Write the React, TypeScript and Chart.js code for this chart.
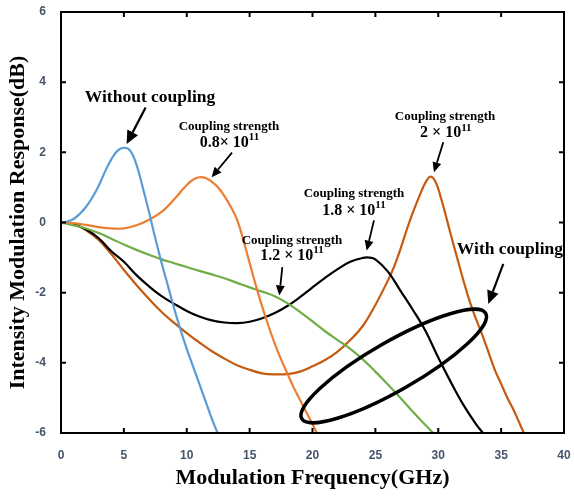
import React, { useEffect, useRef } from 'react';
import { Chart, registerables } from 'chart.js';

Chart.register(...registerables);

// ---------- data ----------
const X_MIN = 0;
const X_MAX = 40;
const X_STEP = 5;
const Y_MIN = -6;
const Y_MAX = 6;
const Y_STEP = 2;

const xTitle = 'Modulation Frequency(GHz)';
const yTitle = 'Intensity Modulation Response(dB)';

const noCouplingX = [0, 0.5, 1, 1.5, 2, 2.5, 3, 3.5, 4, 4.5, 5, 5.5, 6, 6.5, 7, 7.5, 8, 8.5, 9, 9.5, 10, 10.5, 11, 11.5, 12, 12.45];
const noCouplingY = [0, 0.03, 0.1, 0.25, 0.45, 0.72, 1.05, 1.45, 1.8, 2.05, 2.13, 2.05, 1.65, 1.0, 0.3, -0.45, -1.15, -1.8, -2.45, -3.05, -3.6, -4.1, -4.6, -5.1, -5.6, -6];

const k08X = [0, 1, 2, 3, 4, 5, 6, 7, 8, 9, 10, 10.5, 11, 11.5, 12, 12.5, 13, 13.5, 14, 14.5, 15, 15.5, 16, 16.5, 17, 17.5, 18, 18.5, 19, 19.5, 20, 20.35];
const k08Y = [0, -0.02, -0.07, -0.13, -0.17, -0.17, -0.08, 0.08, 0.3, 0.66, 1.07, 1.22, 1.29, 1.27, 1.16, 1.0, 0.75, 0.45, 0.08, -0.5, -1.15, -1.8, -2.4, -2.95, -3.45, -3.9, -4.3, -4.7, -5.05, -5.4, -5.75, -6];

const k12X = [0, 1, 2, 3, 4, 5, 6, 7, 8, 9, 10, 11, 12, 13, 14, 15, 16, 17, 18, 19, 20, 21, 22, 23, 24, 25, 26, 27, 28, 29, 29.6];
const k12Y = [0, -0.08, -0.17, -0.3, -0.46, -0.63, -0.78, -0.92, -1.05, -1.16, -1.27, -1.38, -1.48, -1.59, -1.72, -1.85, -1.97, -2.1, -2.3, -2.55, -2.82, -3.1, -3.35, -3.6, -3.9, -4.25, -4.62, -5.0, -5.4, -5.78, -6];

const k18X = [0, 1, 2, 3, 4, 5, 6, 7, 8, 9, 10, 11, 12, 13, 14, 15, 16, 17, 18, 19, 20, 21, 22, 23, 24, 24.5, 25, 26, 27, 28, 29, 30, 31, 32, 33, 33.55];
const k18Y = [0, -0.05, -0.2, -0.45, -0.82, -1.12, -1.5, -1.82, -2.1, -2.32, -2.52, -2.68, -2.79, -2.85, -2.87, -2.83, -2.73, -2.58, -2.38, -2.13, -1.85, -1.58, -1.33, -1.12, -1.01, -1.0, -1.05, -1.4, -1.95, -2.5, -3.1, -3.85, -4.55, -5.2, -5.75, -6];

const k20X = [0, 1, 2, 3, 4, 5, 6, 7, 8, 9, 10, 11, 12, 13, 14, 15, 16, 17, 18, 19, 20, 21, 22, 23, 24, 25, 26, 26.5, 27, 27.5, 28, 28.5, 29, 29.4, 29.8, 30.2, 30.6, 31, 31.5, 32, 32.5, 33, 33.5, 34, 34.5, 35, 35.5, 36, 36.5, 36.8];
const k20Y = [0, -0.05, -0.22, -0.5, -0.9, -1.35, -1.78, -2.18, -2.55, -2.86, -3.15, -3.42, -3.67, -3.88, -4.07, -4.2, -4.3, -4.33, -4.32, -4.25, -4.1, -3.92, -3.68, -3.35, -2.95, -2.35, -1.65, -1.25, -0.75, -0.2, 0.3, 0.75, 1.15, 1.31, 1.15, 0.72, 0.2, -0.35, -1.0, -1.65, -2.25, -2.75, -3.2, -3.7, -4.2, -4.6, -5.0, -5.35, -5.75, -6];

// annotation texts & anchors (data units)
const strengthTitle = 'Coupling strength';
const strengthMantissa = ['0.8\u00d7 10', '1.2 \u00d7 10', '1.8 \u00d7 10', '2 \u00d7 10'];
const strengthExponent = '11';
const strengthLine1 = [[13.36, 2.74], [18.37, -0.51], [23.3, 0.83], [30.54, 3.02]];
const strengthLine2 = [[13.4, 2.28], [18.37, -0.94], [23.3, 0.34], [30.6, 2.56]];
const strengthArrowFrom = [[13.6, 1.99], [17.6, -1.27], [24.89, 0.06], [30.4, 2.29]];
const strengthArrowTo = [[11.98, 1.29], [17.36, -2.08], [24.31, -0.8], [29.66, 1.43]];

const bigLabels = ['Without coupling', 'With coupling'];
const bigLabelPos = [[7.08, 3.56], [35.7, -0.77]];
const bigArrowFrom = [[6.73, 3.28], [35.17, -1.18]];
const bigArrowTo = [[5.22, 2.24], [33.98, -2.32]];

const ellipseCenter = [26.46, -4.09];

const COLORS = ['#5B9BD5', '#ED7D31', '#70AD47', '#000000', '#C55A11'];

function zip(xs: number[], ys: number[]) {
  return xs.map((x, i) => ({ x, y: ys[i] }));
}

function drawArrow(ctx: CanvasRenderingContext2D, x1: number, y1: number, x2: number, y2: number, lw: number, hl: number, hw: number) {
  const a = Math.atan2(y2 - y1, x2 - x1);
  const bx = x2 - hl * Math.cos(a);
  const by = y2 - hl * Math.sin(a);
  ctx.lineWidth = lw;
  ctx.beginPath();
  ctx.moveTo(x1, y1);
  ctx.lineTo(bx, by);
  ctx.stroke();
  ctx.beginPath();
  ctx.moveTo(x2, y2);
  ctx.lineTo(bx + hw * Math.sin(a), by - hw * Math.cos(a));
  ctx.lineTo(bx - hw * Math.sin(a), by + hw * Math.cos(a));
  ctx.closePath();
  ctx.fill();
}

const decorPlugin = {
  id: 'decor',
  afterDatasetsDraw(chart: any) {
    const { ctx, chartArea, scales } = chart;
    const xs = scales.x;
    const ys = scales.y;
    const px = (v: number) => xs.getPixelForValue(v);
    const py = (v: number) => ys.getPixelForValue(v);
    ctx.save();
    // frame
    ctx.strokeStyle = '#000';
    ctx.lineWidth = 2;
    ctx.strokeRect(chartArea.left, chartArea.top, chartArea.right - chartArea.left, chartArea.bottom - chartArea.top);
    // inward ticks
    const TL = 5;
    ctx.beginPath();
    for (let v = X_MIN + X_STEP; v < X_MAX; v += X_STEP) {
      const x = px(v);
      ctx.moveTo(x, chartArea.bottom);
      ctx.lineTo(x, chartArea.bottom - TL);
      ctx.moveTo(x, chartArea.top);
      ctx.lineTo(x, chartArea.top + TL);
    }
    for (let v = Y_MIN + Y_STEP; v < Y_MAX; v += Y_STEP) {
      const y = py(v);
      ctx.moveTo(chartArea.left, y);
      ctx.lineTo(chartArea.left + TL, y);
      ctx.moveTo(chartArea.right, y);
      ctx.lineTo(chartArea.right - TL, y);
    }
    ctx.stroke();

    // ellipse
    ctx.lineWidth = 3.5;
    ctx.beginPath();
    ctx.ellipse(px(ellipseCenter[0]), py(ellipseCenter[1]), 106, 24.5, -29.8 * Math.PI / 180, 0, Math.PI * 2);
    ctx.stroke();

    ctx.fillStyle = '#000';
    ctx.textAlign = 'center';
    ctx.textBaseline = 'middle';
    // big labels
    ctx.font = 'bold 17.5px "Liberation Serif"';
    bigLabels.forEach((t, i) => {
      ctx.textAlign = 'center';
      ctx.fillText(t, px(bigLabelPos[i][0]), py(bigLabelPos[i][1]));
      drawArrow(ctx, px(bigArrowFrom[i][0]), py(bigArrowFrom[i][1]), px(bigArrowTo[i][0]), py(bigArrowTo[i][1]), 2.2, 13, 6);
    });
    // strength labels
    strengthMantissa.forEach((m, i) => {
      ctx.textAlign = 'center';
      ctx.font = 'bold 13px "Liberation Serif"';
      ctx.fillText(strengthTitle, px(strengthLine1[i][0]), py(strengthLine1[i][1]));
      ctx.font = 'bold 16px "Liberation Serif"';
      const w1 = ctx.measureText(m).width;
      ctx.font = 'bold 11px "Liberation Serif"';
      const w2 = ctx.measureText(strengthExponent).width;
      const cx = px(strengthLine2[i][0]);
      const cy = py(strengthLine2[i][1]);
      const start = cx - (w1 + w2) / 2;
      ctx.textAlign = 'left';
      ctx.font = 'bold 16px "Liberation Serif"';
      ctx.fillText(m, start, cy);
      ctx.font = 'bold 11px "Liberation Serif"';
      ctx.fillText(strengthExponent, start + w1, cy - 5);
      drawArrow(ctx, px(strengthArrowFrom[i][0]), py(strengthArrowFrom[i][1]), px(strengthArrowTo[i][0]), py(strengthArrowTo[i][1]), 1.8, 10, 4.5);
    });
    ctx.restore();
  },
};

export default function App() {
  const ref = useRef<HTMLCanvasElement | null>(null);
  useEffect(() => {
    if (!ref.current) return;
    const series = [
      zip(noCouplingX, noCouplingY),
      zip(k08X, k08Y),
      zip(k12X, k12Y),
      zip(k18X, k18Y),
      zip(k20X, k20Y),
    ];
    const tickFont = { family: '"Liberation Sans"', weight: 'bold' as const, size: 12 };
    const titleFont = { family: '"Liberation Serif"', weight: 'bold' as const, size: 22 };
    const chart = new Chart(ref.current, {
      type: 'line',
      data: {
        datasets: series.map((d, i) => ({
          data: d,
          borderColor: COLORS[i],
          backgroundColor: COLORS[i],
          borderWidth: 2.2,
          pointRadius: 0,
          fill: false,
          tension: 0.4,
        })),
      },
      options: {
        responsive: false,
        animation: false,
        events: [],
        layout: { padding: { top: 12, right: 10, left: 0, bottom: 0 } },
        plugins: { legend: { display: false }, tooltip: { enabled: false }, title: { display: false } },
        scales: {
          x: {
            type: 'linear',
            min: X_MIN,
            max: X_MAX,
            grid: { display: false, drawTicks: true, tickLength: 15 },
            border: { display: false },
            ticks: { stepSize: X_STEP, padding: 0, color: '#44546A', font: tickFont },
            title: { display: true, text: xTitle, color: '#000', font: titleFont, padding: { top: 0, bottom: 6 } },
            afterFit: (s: any) => { s.height = 65; },
          },
          y: {
            type: 'linear',
            min: Y_MIN,
            max: Y_MAX,
            grid: { display: false, drawTicks: true, tickLength: 15 },
            border: { display: false },
            ticks: { stepSize: Y_STEP, padding: 0, color: '#44546A', font: tickFont },
            title: { display: true, text: yTitle, color: '#000', font: titleFont, padding: { top: 5, bottom: 0 } },
            afterFit: (s: any) => { s.width = 61; },
          },
        },
      },
      plugins: [decorPlugin],
    });
    return () => chart.destroy();
  }, []);
  return (
    <div style={{ position: 'absolute', left: 0, top: 0, width: 574, height: 498, background: '#fff' }}>
      <canvas ref={ref} width={574} height={498} />
    </div>
  );
}
